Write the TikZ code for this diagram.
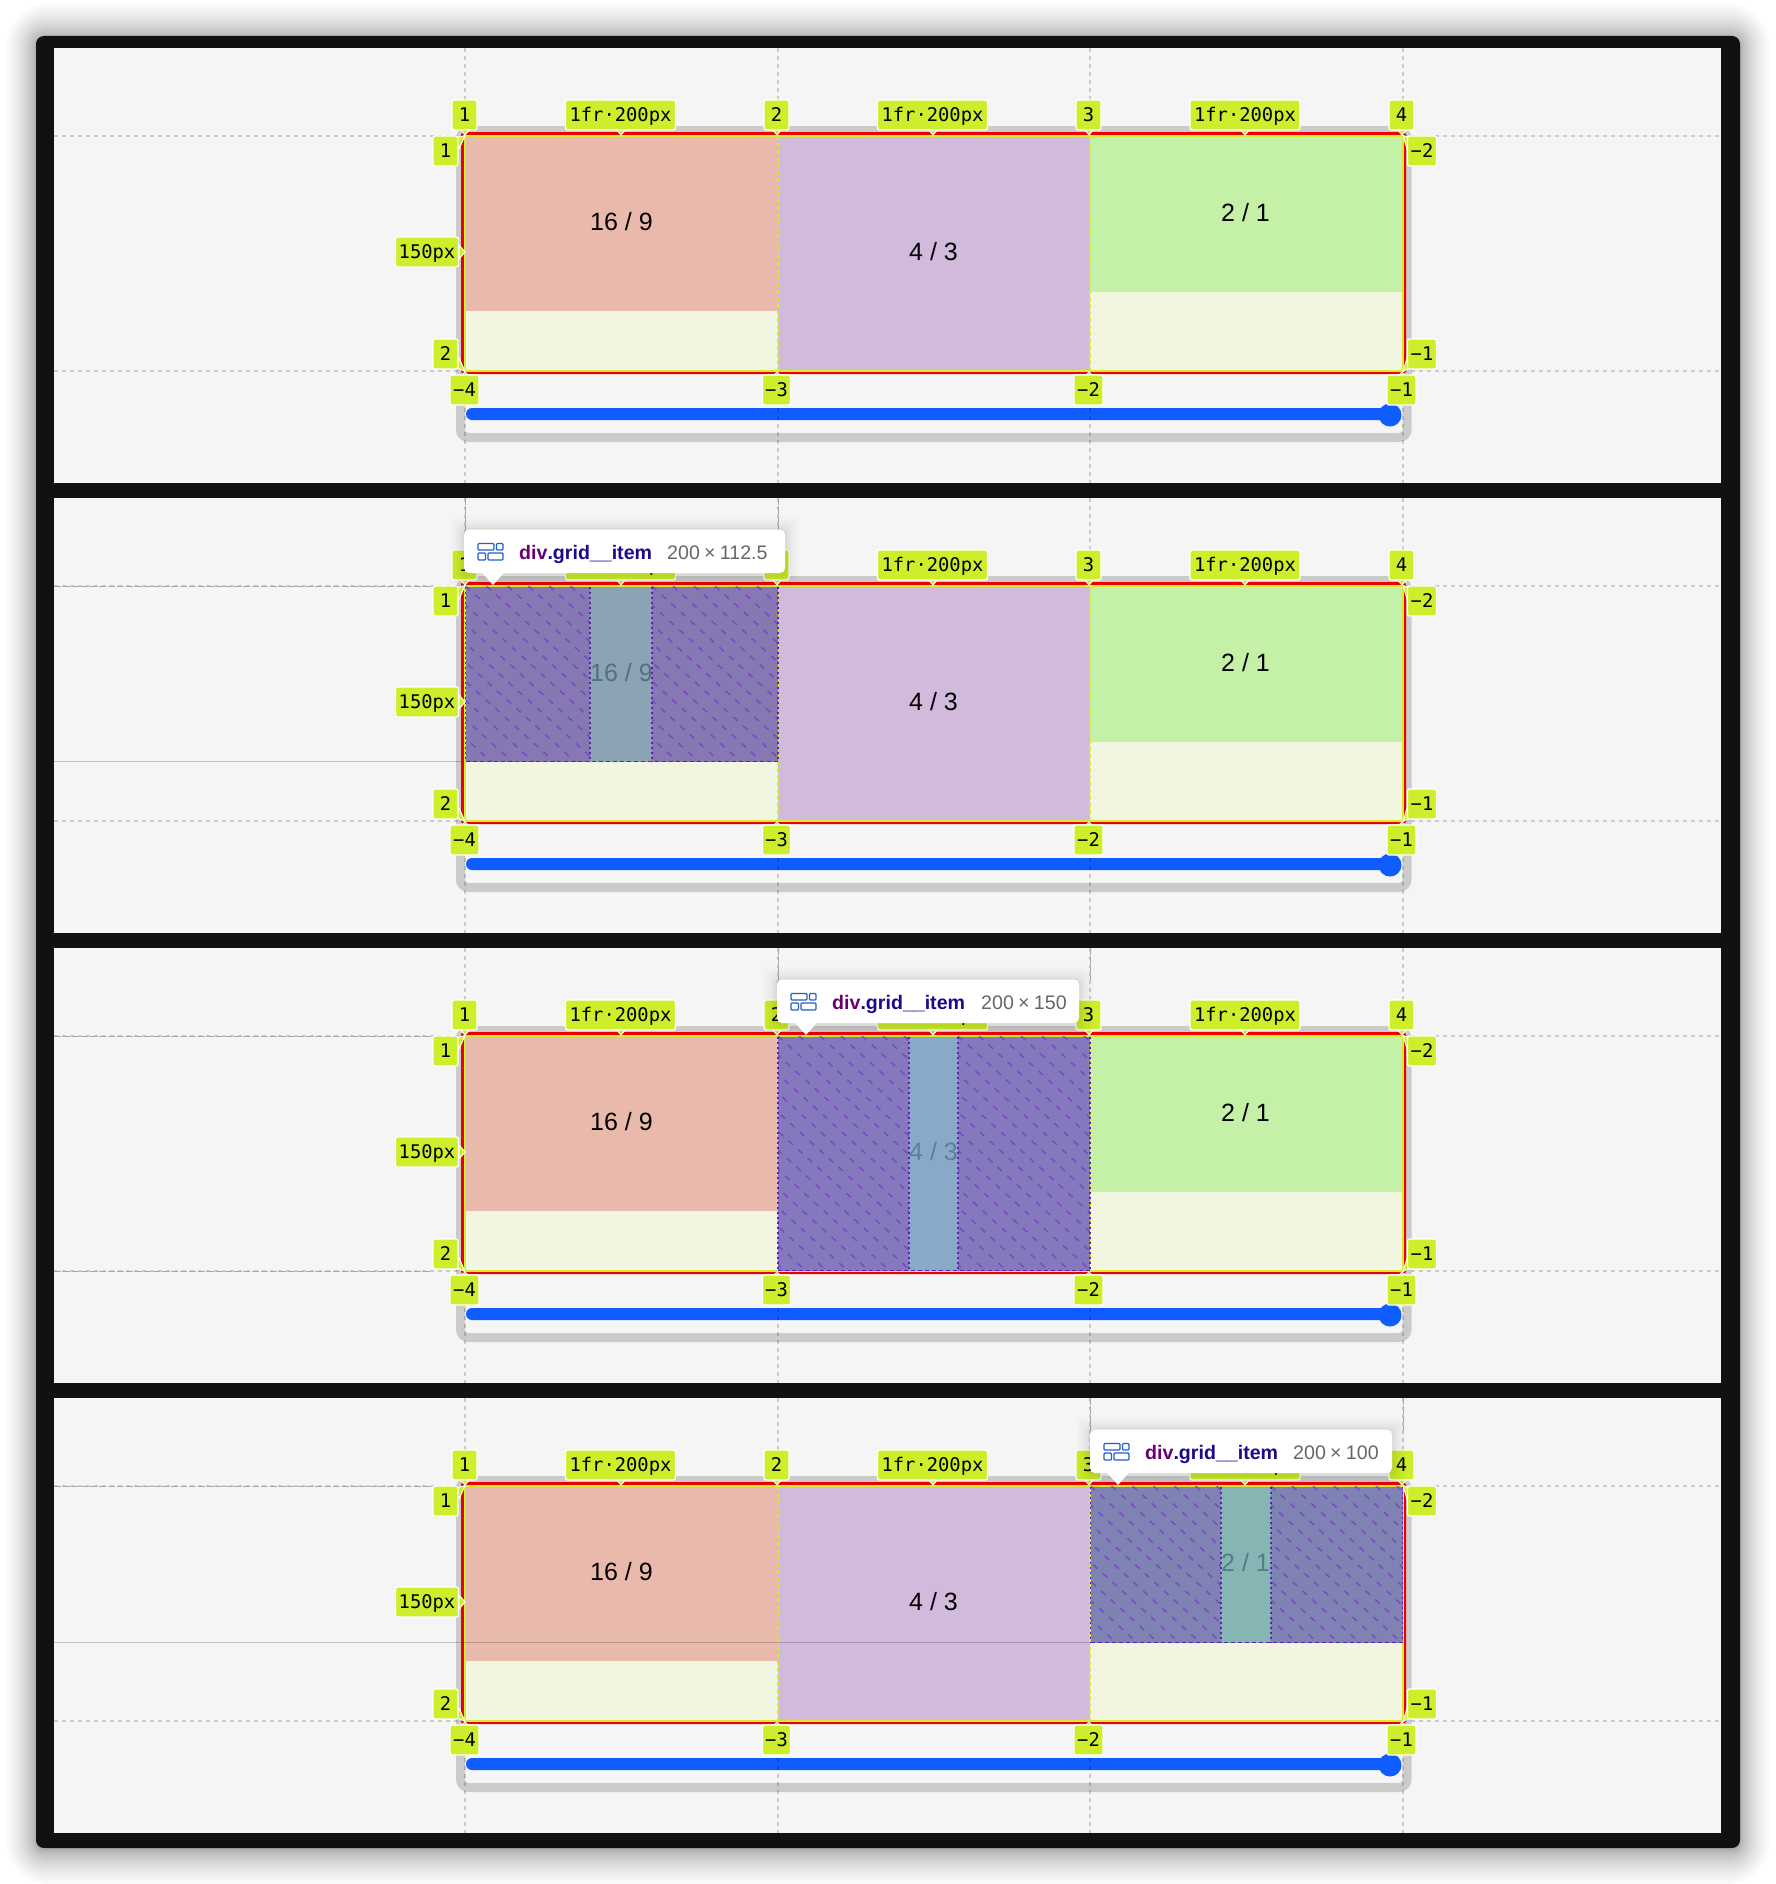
\documentclass[tikz,border=0pt]{standalone}
\usepackage{fontspec}
\setmainfont{Liberation Sans}
\newfontfamily\monof{DejaVu Sans Mono}
\definecolor{pagebg}{HTML}{F5F5F5}
\definecolor{frameblk}{HTML}{111111}
\definecolor{lime}{HTML}{CDEE2A}
\definecolor{framegray}{HTML}{CBCBCB}
\definecolor{redline}{HTML}{EE0000}
\definecolor{gridyel}{HTML}{D4EC30}
\definecolor{cellA}{HTML}{E9B9AB}
\definecolor{cellB}{HTML}{D2BADC}
\definecolor{cellC}{HTML}{C4F1A7}
\definecolor{cellE}{HTML}{F2F5E0}
\definecolor{barblue}{HTML}{0F5CFF}
\definecolor{hatchc}{HTML}{7A3CC4}
\definecolor{edgec}{HTML}{5F1FB0}
\definecolor{hoverline}{HTML}{A8A8A8}
\definecolor{iconblue}{HTML}{1F5FCF}
\definecolor{tagpurple}{HTML}{6A0070}
\definecolor{tagblue}{HTML}{1A0A8A}
\definecolor{dimgray}{HTML}{666666}
\definecolor{sideA}{HTML}{8678B3}
\definecolor{midA}{HTML}{8CA3B5}
\definecolor{textA}{HTML}{4F7085}
\definecolor{sideB}{HTML}{8479BD}
\definecolor{midB}{HTML}{88A9C7}
\definecolor{textB}{HTML}{5F7D9F}
\definecolor{sideC}{HTML}{7E83B4}
\definecolor{midC}{HTML}{85B6B4}
\definecolor{textC}{HTML}{4F7F85}
\tikzset{
  badge/.style={fill=lime,draw=white,line width=1.3pt,rounded corners=2pt,inner sep=0pt,
    minimum height=30pt,text height=13.6pt,text depth=0pt,align=center,
    font=\monof\fontsize{18.8}{20}\selectfont,text=black},
  ptr/.style={fill=lime,draw=white,line width=1pt,line join=round},
  celllabel/.style={inner sep=0pt,text height=17.9pt,text depth=0pt,font=\fontsize{25}{30}\selectfont},
  griddash/.style={line width=1.4pt,draw=black,opacity=.17,dash pattern=on 4pt off 4pt},
  hoverdash/.style={line width=1pt,draw=hoverline,dash pattern=on 7pt off 2pt},
  hatchline/.style={line width=1.6pt,draw=hatchc,opacity=.75,dash pattern=on 6pt off 7pt},
  edgedash/.style={line width=1.4pt,draw=edgec,dash pattern=on 2.5pt off 2.5pt},
  icobox/.style={draw=iconblue,line width=1.3pt,rounded corners=1pt},
}
\newcommand\ptrD[2]{\path[ptr] (#1-5,#2) -- (#1,#2+6) -- (#1+5,#2) -- cycle;}
\newcommand\ptrU[2]{\path[ptr] (#1-5,#2) -- (#1,#2-5) -- (#1+5,#2) -- cycle;}
% base panel: #1 panel number, #2 vertical offset
\newcommand\basepanel[2]{%
\begin{scope}[shift={(0,#2)}]
  \path[fill=pagebg] (54,48) rectangle (1721,483);
  \draw[framegray,line width=9pt,rounded corners=8pt] (460.5,130.5) rectangle (1407,437.5);
  \path[fill=barblue,rounded corners=6pt] (466,408) rectangle (1392,420);
  \path[fill=barblue] (1390,415) circle (11.5);
  \foreach \vx in {465,778,1090,1403}{\draw[griddash] (\vx,48) -- (\vx,483);}
  \draw[griddash] (54,136) -- (465,136);
  \draw[griddash] (54,371) -- (465,371);
  \draw[griddash] (1403,136) -- (1721,136);
  \draw[griddash] (1403,371) -- (1721,371);
  \path[fill=redline,rounded corners=3pt] (461,132) rectangle (1406,374);
  \path[fill=cellE] (464.5,136) rectangle (1404,372);
  \path[fill=cellA] (465,136) rectangle (778,311);
  \path[fill=cellB] (778,136) rectangle (1090,371);
  \path[fill=cellC] (1090,136) rectangle (1403,292);
  \draw[gridyel,line width=2pt] (465,136) rectangle (1403,371);
  \draw[gridyel,line width=1.8pt,dash pattern=on 4pt off 3pt] (778,136) -- (778,371);
  \draw[gridyel,line width=1.8pt,dash pattern=on 4pt off 3pt] (1090,136) -- (1090,371);
  \node[celllabel,text=black] (p#1la) at (621.5,222) {16 / 9};
  \node[celllabel,text=black] (p#1lb) at (933.5,252) {4 / 3};
  \node[celllabel,text=black] (p#1lc) at (1245.5,213) {2 / 1};
\end{scope}}
% badges of a panel
\newcommand\panelbadges[2]{%
\begin{scope}[shift={(0,#2)}]
  \ptrD{465}{129}\node[badge,minimum width=25pt] (p#1t1) at (464.5,115) {1};
  \ptrD{621}{129}\node[badge,minimum width=110pt] (p#1f1) at (620.5,115) {1fr·200px};
  \ptrD{777}{129}\node[badge,minimum width=25pt] (p#1t2) at (776.5,115) {2};
  \ptrD{933}{129}\node[badge,minimum width=110pt] (p#1f2) at (932.5,115) {1fr·200px};
  \ptrD{1089}{129}\node[badge,minimum width=25pt] (p#1t3) at (1088.5,115) {3};
  \ptrD{1245}{129}\node[badge,minimum width=110pt] (p#1f3) at (1245,115) {1fr·200px};
  \ptrD{1402}{129}\node[badge,minimum width=25pt] (p#1t4) at (1401.5,115) {4};
  \path[ptr] (453,139) -- (465,135.5) -- (459,149) -- cycle;
  \node[badge,minimum width=25pt] (p#1l1) at (445.5,151) {1};
  \path[ptr] (459,245) -- (465,252) -- (459,259) -- cycle;
  \node[badge,minimum width=63pt] (p#1l0) at (427,252) {150px};
  \path[ptr] (459,358) -- (465,371.5) -- (453,366) -- cycle;
  \node[badge,minimum width=25pt] (p#1l2) at (445.5,354) {2};
  \path[ptr] (1413,139) -- (1403,135.5) -- (1407,149) -- cycle;
  \node[badge,minimum width=29pt] (p#1r1) at (1422,151) {−2};
  \path[ptr] (1407,358) -- (1403,371.5) -- (1413,366) -- cycle;
  \node[badge,minimum width=29pt] (p#1r2) at (1422,354) {−1};
  \ptrU{465}{377}\node[badge,minimum width=29pt] (p#1b1) at (464.5,390) {−4};
  \ptrU{777}{377}\node[badge,minimum width=28pt] (p#1b2) at (776.5,390) {−3};
  \ptrU{1089}{377}\node[badge,minimum width=29pt] (p#1b3) at (1088.5,390) {−2};
  \ptrU{1402}{377}\node[badge,minimum width=29pt] (p#1b4) at (1401.5,390) {−1};
\end{scope}}
% hatch region: x1 x2 bottom
\newcommand\hatchbox[3]{%
\begin{scope}
  \clip (#1,136.5) rectangle (#2,#3);
  \foreach \k in {-14,...,8}{%
    \draw[hatchline] ({#1+\k*21},136) -- ++(280,254);}
\end{scope}}
% item overlay: #1 x1, #2 c1, #3 c2, #4 x2, #5 bottom, #6 side colour, #7 centre colour
\newcommand\itemover[7]{%
  \path[fill=#6] (#1,136.5) rectangle (#4,#5);
  \path[fill=#7] (#2,136.5) rectangle (#3,#5);
  \hatchbox{#1}{#2}{#5}
  \hatchbox{#3}{#4}{#5}
  \draw[edgedash] (#1,136.5) -- (#1,#5);
  \draw[edgedash] (#2,136.5) -- (#2,#5);
  \draw[edgedash] (#3,136.5) -- (#3,#5);
  \draw[edgedash] (#4,136.5) -- (#4,#5);
  \draw[edgedash,dash pattern=on 4pt off 3pt] (#1,#5) -- (#4,#5);
}
% tooltip: #1 name, #2 x1, #3 x2, #4 apex x, #5 dims, #6 dims x
\newcommand\tooltipbox[6]{%
  \foreach \d/\o in {14/.012,11/.016,8/.02,5/.025,2.5/.03}{%
    \path[fill=black,opacity=\o,rounded corners=7pt] (#2-\d,79.5-\d+1) rectangle (#3+\d,123+\d+1);}
  \path[fill=white] (#4-11.5,122) -- (#4,135) -- (#4+11.5,122) -- cycle;
  \path[fill=white,rounded corners=5pt] (#2,79.5) rectangle (#3,123);
  \begin{scope}[shift={(#2+14,93.5)}]
    \draw[icobox] (0,0) rectangle (16,6.5);
    \draw[icobox] (18.5,0) rectangle (25,6.5);
    \draw[icobox] (0,9.5) rectangle (7.5,16.5);
    \draw[icobox] (10,9.5) rectangle (25,16.5);
  \end{scope}
  \node[anchor=base west,inner sep=0pt,font=\bfseries\fontsize{19.6}{22}\selectfont] (#1n) at (#2+55,109)
    {\textcolor{tagpurple}{div}\textcolor{tagblue}{.grid\_\_item}};
  \node[anchor=base west,inner sep=0pt,text=dimgray,font=\fontsize{19.6}{22}\selectfont] (#1d) at (#6,109) {#5};
}
\newcommand\dimtxt[2]{#1\hspace{.22em}×\hspace{.22em}#2}
\begin{document}
\begin{tikzpicture}[x=1pt,y=-1pt]
\useasboundingbox (0,0) rectangle (1776,1884);
\path[fill=white] (0,0) rectangle (1776,1884);
% outer shadow
\foreach \i in {1,...,18}{%
  \pgfmathsetmacro\d{34*(\i/18)^1.8}
  \pgfmathsetmacro\dx{.85*\d}
  \path[fill=black,opacity=.018,rounded corners={(8+\d)*1pt}] (36-\dx,36-\d+2) rectangle (1740+\dx,1848+\d+2);}
\path[fill=frameblk,rounded corners=8pt] (36,36) rectangle (1740,1848);
\basepanel{1}{0}
\basepanel{2}{450}
\basepanel{3}{900}
\basepanel{4}{1350}
% panel 2 hover
\begin{scope}[shift={(0,450)}]
  \foreach \vx in {465,778}{\draw[hoverdash] (\vx,48) -- (\vx,80);}
  \draw[hoverdash] (54,136) -- (432,136);
  \draw[line width=1.4pt,draw=black,opacity=.22] (54,311.5) -- (461,311.5);
  \itemover{465.5}{590}{652}{778}{311.5}{sideA}{midA}
  \node[celllabel,text=textA] (h2) at (621.5,222.5) {16 / 9};
\end{scope}
% panel 3 hover
\begin{scope}[shift={(0,900)}]
  \foreach \vx in {778,1090}{\draw[hoverdash] (\vx,48) -- (\vx,80);}
  \draw[hoverdash] (54,136) -- (432,136);
  \draw[hoverdash] (54,371) -- (432,371);
  \itemover{778}{909}{958}{1090}{370.5}{sideB}{midB}
  \node[celllabel,text=textB] (h3) at (933.5,252) {4 / 3};
\end{scope}
% panel 4 hover
\begin{scope}[shift={(0,1350)}]
  \foreach \vx in {1090,1403}{\draw[hoverdash] (\vx,48) -- (\vx,80);}
  \draw[hoverdash] (54,136) -- (432,136);
  \draw[line width=1.4pt,draw=black,opacity=.2] (54,292.5) -- (1090,292.5);
  \itemover{1090.5}{1221}{1271}{1402.5}{292.5}{sideC}{midC}
  \node[celllabel,text=textC] (h4) at (1245.5,213) {2 / 1};
\end{scope}
\panelbadges{1}{0}
\panelbadges{2}{450}
\panelbadges{3}{900}
\panelbadges{4}{1350}
\begin{scope}[shift={(0,450)}]
  \tooltipbox{tipa}{464}{785}{493}{\dimtxt{200}{112.5}}{667}
\end{scope}
\begin{scope}[shift={(0,900)}]
  \tooltipbox{tipb}{777}{1079}{806}{\dimtxt{200}{150}}{981}
\end{scope}
\begin{scope}[shift={(0,1350)}]
  \tooltipbox{tipc}{1090}{1392}{1118}{\dimtxt{200}{100}}{1293}
\end{scope}
\end{tikzpicture}
\end{document}
